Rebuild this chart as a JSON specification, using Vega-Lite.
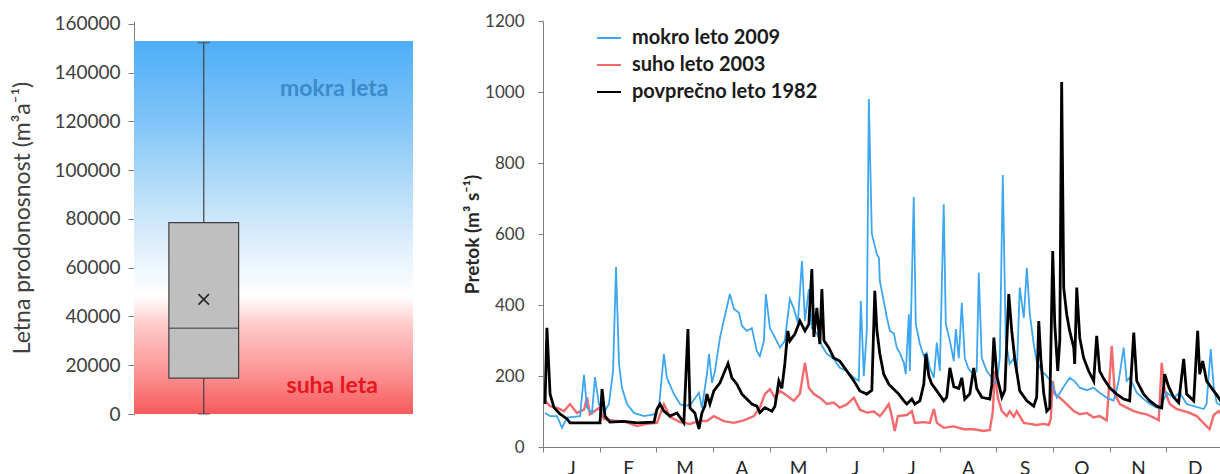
{
  "$schema": "https://vega.github.io/schema/vega-lite/v6.json",
  "background": "white",
  "padding": {"left": 11, "top": 12, "right": 0, "bottom": 0},
  "bounds": "flush",
  "spacing": 130,
  "config": {"view": {"stroke": null}, "font": "Lato"},
  "datasets": {
    "suho": [
      {"series":"suho leto 2003","day":1.1,"flow":130},{"series":"suho leto 2003","day":3.8,"flow":115},{"series":"suho leto 2003","day":7.5,"flow":110},{"series":"suho leto 2003","day":11.3,"flow":101},{"series":"suho leto 2003","day":14.5,"flow":121},{"series":"suho leto 2003","day":18.2,"flow":96},{"series":"suho leto 2003","day":22.0,"flow":105},{"series":"suho leto 2003","day":23.6,"flow":140},{"series":"suho leto 2003","day":25.2,"flow":92},{"series":"suho leto 2003","day":30.0,"flow":110},{"series":"suho leto 2003","day":32.7,"flow":79},{"series":"suho leto 2003","day":38.1,"flow":74},{"series":"suho leto 2003","day":43.5,"flow":72},{"series":"suho leto 2003","day":50.4,"flow":59},{"series":"suho leto 2003","day":55.8,"flow":65},{"series":"suho leto 2003","day":61.2,"flow":68},{"series":"suho leto 2003","day":64.9,"flow":121},{"series":"suho leto 2003","day":68.1,"flow":85},{"series":"suho leto 2003","day":73.5,"flow":70},{"series":"suho leto 2003","day":78.9,"flow":65},{"series":"suho leto 2003","day":84.2,"flow":74},{"series":"suho leto 2003","day":88.0,"flow":73},{"series":"suho leto 2003","day":91.7,"flow":87},{"series":"suho leto 2003","day":97.1,"flow":73},{"series":"suho leto 2003","day":102.5,"flow":68},{"series":"suho leto 2003","day":107.8,"flow":75},{"series":"suho leto 2003","day":113.2,"flow":87},{"series":"suho leto 2003","day":116.4,"flow":111},{"series":"suho leto 2003","day":119.1,"flow":149},{"series":"suho leto 2003","day":121.8,"flow":163},{"series":"suho leto 2003","day":124.5,"flow":139},{"series":"suho leto 2003","day":127.2,"flow":158},{"series":"suho leto 2003","day":130.9,"flow":145},{"series":"suho leto 2003","day":134.7,"flow":130},{"series":"suho leto 2003","day":137.9,"flow":150},{"series":"suho leto 2003","day":140.6,"flow":237},{"series":"suho leto 2003","day":142.7,"flow":167},{"series":"suho leto 2003","day":145.4,"flow":149},{"series":"suho leto 2003","day":148.6,"flow":139},{"series":"suho leto 2003","day":152.4,"flow":121},{"series":"suho leto 2003","day":156.1,"flow":125},{"series":"suho leto 2003","day":159.3,"flow":111},{"series":"suho leto 2003","day":163.1,"flow":120},{"series":"suho leto 2003","day":166.9,"flow":139},{"series":"suho leto 2003","day":170.1,"flow":105},{"series":"suho leto 2003","day":173.8,"flow":97},{"series":"suho leto 2003","day":177.6,"flow":100},{"series":"suho leto 2003","day":180.8,"flow":87},{"series":"suho leto 2003","day":182.9,"flow":100},{"series":"suho leto 2003","day":185.6,"flow":121},{"series":"suho leto 2003","day":187.2,"flow":87},{"series":"suho leto 2003","day":188.8,"flow":45},{"series":"suho leto 2003","day":190.5,"flow":87},{"series":"suho leto 2003","day":195.3,"flow":90},{"series":"suho leto 2003","day":198.0,"flow":101},{"series":"suho leto 2003","day":199.6,"flow":68},{"series":"suho leto 2003","day":204.4,"flow":70},{"series":"suho leto 2003","day":207.6,"flow":68},{"series":"suho leto 2003","day":209.8,"flow":107},{"series":"suho leto 2003","day":211.4,"flow":68},{"series":"suho leto 2003","day":215.1,"flow":54},{"series":"suho leto 2003","day":220.5,"flow":58},{"series":"suho leto 2003","day":225.9,"flow":50},{"series":"suho leto 2003","day":231.2,"flow":50},{"series":"suho leto 2003","day":236.6,"flow":45},{"series":"suho leto 2003","day":239.8,"flow":48},{"series":"suho leto 2003","day":241.4,"flow":97},{"series":"suho leto 2003","day":242.5,"flow":214},{"series":"suho leto 2003","day":244.1,"flow":139},{"series":"suho leto 2003","day":246.3,"flow":101},{"series":"suho leto 2003","day":248.9,"flow":87},{"series":"suho leto 2003","day":250.5,"flow":101},{"series":"suho leto 2003","day":252.7,"flow":85},{"series":"suho leto 2003","day":254.3,"flow":101},{"series":"suho leto 2003","day":258.1,"flow":68},{"series":"suho leto 2003","day":261.3,"flow":65},{"series":"suho leto 2003","day":265.0,"flow":62},{"series":"suho leto 2003","day":268.8,"flow":65},{"series":"suho leto 2003","day":271.5,"flow":62},{"series":"suho leto 2003","day":272.6,"flow":80},{"series":"suho leto 2003","day":273.6,"flow":186},{"series":"suho leto 2003","day":274.7,"flow":149},{"series":"suho leto 2003","day":277.4,"flow":139},{"series":"suho leto 2003","day":281.1,"flow":121},{"series":"suho leto 2003","day":284.9,"flow":101},{"series":"suho leto 2003","day":288.1,"flow":92},{"series":"suho leto 2003","day":291.9,"flow":96},{"series":"suho leto 2003","day":295.6,"flow":83},{"series":"suho leto 2003","day":298.8,"flow":87},{"series":"suho leto 2003","day":302.6,"flow":75},{"series":"suho leto 2003","day":305.3,"flow":285},{"series":"suho leto 2003","day":306.9,"flow":149},{"series":"suho leto 2003","day":309.6,"flow":121},{"series":"suho leto 2003","day":313.3,"flow":111},{"series":"suho leto 2003","day":317.1,"flow":101},{"series":"suho leto 2003","day":320.3,"flow":96},{"series":"suho leto 2003","day":324.0,"flow":92},{"series":"suho leto 2003","day":327.8,"flow":83},{"series":"suho leto 2003","day":330.5,"flow":75},{"series":"suho leto 2003","day":332.1,"flow":237},{"series":"suho leto 2003","day":333.7,"flow":160},{"series":"suho leto 2003","day":336.4,"flow":121},{"series":"suho leto 2003","day":340.1,"flow":107},{"series":"suho leto 2003","day":343.9,"flow":101},{"series":"suho leto 2003","day":347.1,"flow":96},{"series":"suho leto 2003","day":350.9,"flow":87},{"series":"suho leto 2003","day":357.8,"flow":50},{"series":"suho leto 2003","day":360.0,"flow":90},{"series":"suho leto 2003","day":362.7,"flow":101},{"series":"suho leto 2003","day":364.3,"flow":90}
    ],
    "mokro": [
      {"series":"mokro leto 2009","day":1.1,"flow":96},{"series":"mokro leto 2009","day":3.8,"flow":87},{"series":"mokro leto 2009","day":7.5,"flow":87},{"series":"mokro leto 2009","day":10.2,"flow":54},{"series":"mokro leto 2009","day":12.9,"flow":83},{"series":"mokro leto 2009","day":19.9,"flow":87},{"series":"mokro leto 2009","day":22.0,"flow":203},{"series":"mokro leto 2009","day":23.6,"flow":111},{"series":"mokro leto 2009","day":26.3,"flow":96},{"series":"mokro leto 2009","day":27.9,"flow":197},{"series":"mokro leto 2009","day":30.0,"flow":121},{"series":"mokro leto 2009","day":32.7,"flow":96},{"series":"mokro leto 2009","day":35.4,"flow":121},{"series":"mokro leto 2009","day":37.6,"flow":214},{"series":"mokro leto 2009","day":39.2,"flow":507},{"series":"mokro leto 2009","day":40.8,"flow":234},{"series":"mokro leto 2009","day":42.4,"flow":166},{"series":"mokro leto 2009","day":45.1,"flow":121},{"series":"mokro leto 2009","day":48.8,"flow":96},{"series":"mokro leto 2009","day":54.2,"flow":87},{"series":"mokro leto 2009","day":59.6,"flow":92},{"series":"mokro leto 2009","day":62.2,"flow":111},{"series":"mokro leto 2009","day":64.9,"flow":262},{"series":"mokro leto 2009","day":66.5,"flow":195},{"series":"mokro leto 2009","day":70.3,"flow":149},{"series":"mokro leto 2009","day":73.5,"flow":121},{"series":"mokro leto 2009","day":76.2,"flow":115},{"series":"mokro leto 2009","day":79.4,"flow":121},{"series":"mokro leto 2009","day":83.7,"flow":153},{"series":"mokro leto 2009","day":85.3,"flow":110},{"series":"mokro leto 2009","day":88.0,"flow":205},{"series":"mokro leto 2009","day":89.1,"flow":262},{"series":"mokro leto 2009","day":90.7,"flow":181},{"series":"mokro leto 2009","day":92.3,"flow":214},{"series":"mokro leto 2009","day":95.0,"flow":308},{"series":"mokro leto 2009","day":97.6,"flow":369},{"series":"mokro leto 2009","day":100.3,"flow":431},{"series":"mokro leto 2009","day":102.5,"flow":389},{"series":"mokro leto 2009","day":105.2,"flow":378},{"series":"mokro leto 2009","day":106.8,"flow":341},{"series":"mokro leto 2009","day":109.4,"flow":327},{"series":"mokro leto 2009","day":112.1,"flow":335},{"series":"mokro leto 2009","day":114.8,"flow":270},{"series":"mokro leto 2009","day":116.4,"flow":256},{"series":"mokro leto 2009","day":118.6,"flow":299},{"series":"mokro leto 2009","day":119.6,"flow":431},{"series":"mokro leto 2009","day":121.8,"flow":335},{"series":"mokro leto 2009","day":124.5,"flow":308},{"series":"mokro leto 2009","day":127.2,"flow":280},{"series":"mokro leto 2009","day":129.8,"flow":299},{"series":"mokro leto 2009","day":132.5,"flow":417},{"series":"mokro leto 2009","day":134.7,"flow":389},{"series":"mokro leto 2009","day":136.8,"flow":350},{"series":"mokro leto 2009","day":139.0,"flow":524},{"series":"mokro leto 2009","day":140.6,"flow":355},{"series":"mokro leto 2009","day":142.7,"flow":445},{"series":"mokro leto 2009","day":144.3,"flow":335},{"series":"mokro leto 2009","day":147.0,"flow":320},{"series":"mokro leto 2009","day":149.7,"flow":285},{"series":"mokro leto 2009","day":152.4,"flow":262},{"series":"mokro leto 2009","day":156.1,"flow":248},{"series":"mokro leto 2009","day":159.3,"flow":223},{"series":"mokro leto 2009","day":163.1,"flow":214},{"series":"mokro leto 2009","day":166.9,"flow":195},{"series":"mokro leto 2009","day":169.5,"flow":186},{"series":"mokro leto 2009","day":170.6,"flow":411},{"series":"mokro leto 2009","day":172.2,"flow":200},{"series":"mokro leto 2009","day":173.8,"flow":327},{"series":"mokro leto 2009","day":174.9,"flow":980},{"series":"mokro leto 2009","day":176.5,"flow":600},{"series":"mokro leto 2009","day":179.2,"flow":543},{"series":"mokro leto 2009","day":180.3,"flow":533},{"series":"mokro leto 2009","day":180.8,"flow":468},{"series":"mokro leto 2009","day":182.9,"flow":411},{"series":"mokro leto 2009","day":184.6,"flow":364},{"series":"mokro leto 2009","day":186.2,"flow":327},{"series":"mokro leto 2009","day":188.3,"flow":320},{"series":"mokro leto 2009","day":189.9,"flow":280},{"series":"mokro leto 2009","day":191.5,"flow":265},{"series":"mokro leto 2009","day":193.7,"flow":237},{"series":"mokro leto 2009","day":194.7,"flow":205},{"series":"mokro leto 2009","day":196.4,"flow":374},{"series":"mokro leto 2009","day":196.9,"flow":214},{"series":"mokro leto 2009","day":199.0,"flow":704},{"series":"mokro leto 2009","day":200.1,"flow":346},{"series":"mokro leto 2009","day":202.3,"flow":290},{"series":"mokro leto 2009","day":204.4,"flow":256},{"series":"mokro leto 2009","day":206.0,"flow":265},{"series":"mokro leto 2009","day":207.6,"flow":223},{"series":"mokro leto 2009","day":209.8,"flow":195},{"series":"mokro leto 2009","day":211.4,"flow":294},{"series":"mokro leto 2009","day":213.0,"flow":214},{"series":"mokro leto 2009","day":215.1,"flow":684},{"series":"mokro leto 2009","day":216.2,"flow":346},{"series":"mokro leto 2009","day":218.4,"flow":299},{"series":"mokro leto 2009","day":220.5,"flow":242},{"series":"mokro leto 2009","day":221.6,"flow":332},{"series":"mokro leto 2009","day":223.2,"flow":250},{"series":"mokro leto 2009","day":224.8,"flow":406},{"series":"mokro leto 2009","day":226.4,"flow":250},{"series":"mokro leto 2009","day":228.5,"flow":219},{"series":"mokro leto 2009","day":231.2,"flow":205},{"series":"mokro leto 2009","day":232.8,"flow":214},{"series":"mokro leto 2009","day":233.9,"flow":491},{"series":"mokro leto 2009","day":235.5,"flow":251},{"series":"mokro leto 2009","day":238.2,"flow":214},{"series":"mokro leto 2009","day":240.9,"flow":195},{"series":"mokro leto 2009","day":243.6,"flow":181},{"series":"mokro leto 2009","day":245.2,"flow":250},{"series":"mokro leto 2009","day":246.8,"flow":766},{"series":"mokro leto 2009","day":248.4,"flow":299},{"series":"mokro leto 2009","day":250.5,"flow":234},{"series":"mokro leto 2009","day":252.7,"flow":250},{"series":"mokro leto 2009","day":254.3,"flow":205},{"series":"mokro leto 2009","day":255.9,"flow":449},{"series":"mokro leto 2009","day":258.1,"flow":364},{"series":"mokro leto 2009","day":259.7,"flow":505},{"series":"mokro leto 2009","day":261.3,"flow":374},{"series":"mokro leto 2009","day":263.4,"flow":290},{"series":"mokro leto 2009","day":265.0,"flow":242},{"series":"mokro leto 2009","day":267.7,"flow":214},{"series":"mokro leto 2009","day":270.4,"flow":200},{"series":"mokro leto 2009","day":273.1,"flow":180},{"series":"mokro leto 2009","day":275.8,"flow":139},{"series":"mokro leto 2009","day":279.5,"flow":170},{"series":"mokro leto 2009","day":282.7,"flow":195},{"series":"mokro leto 2009","day":285.4,"flow":185},{"series":"mokro leto 2009","day":288.1,"flow":167},{"series":"mokro leto 2009","day":291.9,"flow":160},{"series":"mokro leto 2009","day":295.6,"flow":167},{"series":"mokro leto 2009","day":298.8,"flow":153},{"series":"mokro leto 2009","day":302.6,"flow":139},{"series":"mokro leto 2009","day":306.3,"flow":130},{"series":"mokro leto 2009","day":309.0,"flow":186},{"series":"mokro leto 2009","day":311.7,"flow":280},{"series":"mokro leto 2009","day":313.3,"flow":186},{"series":"mokro leto 2009","day":314.9,"flow":195},{"series":"mokro leto 2009","day":318.7,"flow":153},{"series":"mokro leto 2009","day":322.4,"flow":135},{"series":"mokro leto 2009","day":325.7,"flow":121},{"series":"mokro leto 2009","day":331.0,"flow":107},{"series":"mokro leto 2009","day":334.8,"flow":153},{"series":"mokro leto 2009","day":338.5,"flow":139},{"series":"mokro leto 2009","day":341.8,"flow":153},{"series":"mokro leto 2009","day":345.5,"flow":121},{"series":"mokro leto 2009","day":349.3,"flow":115},{"series":"mokro leto 2009","day":354.6,"flow":107},{"series":"mokro leto 2009","day":356.2,"flow":121},{"series":"mokro leto 2009","day":358.4,"flow":276},{"series":"mokro leto 2009","day":360.0,"flow":170},{"series":"mokro leto 2009","day":361.6,"flow":125},{"series":"mokro leto 2009","day":364.3,"flow":115}
    ],
    "povprecno": [
      {"series":"povprečno leto 1982","day":1.1,"flow":121},{"series":"povprečno leto 1982","day":2.1,"flow":336},{"series":"povprečno leto 1982","day":3.8,"flow":149},{"series":"povprečno leto 1982","day":5.9,"flow":111},{"series":"povprečno leto 1982","day":9.1,"flow":93},{"series":"povprečno leto 1982","day":12.9,"flow":79},{"series":"povprečno leto 1982","day":14.5,"flow":68},{"series":"povprečno leto 1982","day":23.6,"flow":68},{"series":"povprečno leto 1982","day":30.6,"flow":68},{"series":"povprečno leto 1982","day":31.7,"flow":163},{"series":"povprečno leto 1982","day":33.3,"flow":87},{"series":"povprečno leto 1982","day":35.9,"flow":70},{"series":"povprečno leto 1982","day":43.5,"flow":72},{"series":"povprečno leto 1982","day":50.4,"flow":68},{"series":"povprečno leto 1982","day":59.6,"flow":70},{"series":"povprečno leto 1982","day":61.2,"flow":107},{"series":"povprečno leto 1982","day":62.8,"flow":121},{"series":"povprečno leto 1982","day":64.9,"flow":101},{"series":"povprečno leto 1982","day":68.1,"flow":87},{"series":"povprečno leto 1982","day":71.9,"flow":96},{"series":"povprečno leto 1982","day":75.6,"flow":68},{"series":"povprečno leto 1982","day":77.8,"flow":332},{"series":"povprečno leto 1982","day":78.9,"flow":110},{"series":"povprečno leto 1982","day":81.5,"flow":96},{"series":"povprečno leto 1982","day":83.7,"flow":51},{"series":"povprečno leto 1982","day":85.3,"flow":96},{"series":"povprečno leto 1982","day":86.9,"flow":115},{"series":"povprečno leto 1982","day":88.0,"flow":149},{"series":"povprečno leto 1982","day":89.6,"flow":121},{"series":"povprečno leto 1982","day":91.7,"flow":158},{"series":"povprečno leto 1982","day":95.0,"flow":181},{"series":"povprečno leto 1982","day":97.6,"flow":214},{"series":"povprečno leto 1982","day":99.3,"flow":235},{"series":"povprečno leto 1982","day":101.4,"flow":195},{"series":"povprečno leto 1982","day":104.1,"flow":177},{"series":"povprečno leto 1982","day":106.8,"flow":149},{"series":"povprečno leto 1982","day":109.4,"flow":135},{"series":"povprečno leto 1982","day":112.1,"flow":121},{"series":"povprečno leto 1982","day":114.8,"flow":115},{"series":"povprečno leto 1982","day":116.4,"flow":97},{"series":"povprečno leto 1982","day":119.1,"flow":111},{"series":"povprečno leto 1982","day":122.9,"flow":101},{"series":"povprečno leto 1982","day":124.5,"flow":115},{"series":"povprečno leto 1982","day":126.6,"flow":186},{"series":"povprečno leto 1982","day":128.2,"flow":165},{"series":"povprečno leto 1982","day":129.8,"flow":234},{"series":"povprečno leto 1982","day":131.4,"flow":327},{"series":"povprečno leto 1982","day":132.5,"flow":299},{"series":"povprečno leto 1982","day":135.2,"flow":318},{"series":"povprečno leto 1982","day":137.9,"flow":355},{"series":"povprečno leto 1982","day":140.6,"flow":327},{"series":"povprečno leto 1982","day":142.7,"flow":346},{"series":"povprečno leto 1982","day":144.3,"flow":501},{"series":"povprečno leto 1982","day":145.4,"flow":310},{"series":"povprečno leto 1982","day":147.0,"flow":392},{"series":"povprečno leto 1982","day":148.6,"flow":290},{"series":"povprečno leto 1982","day":149.7,"flow":445},{"series":"povprečno leto 1982","day":150.8,"flow":300},{"series":"povprečno leto 1982","day":153.4,"flow":280},{"series":"povprečno leto 1982","day":156.1,"flow":251},{"series":"povprečno leto 1982","day":159.3,"flow":242},{"series":"povprečno leto 1982","day":163.1,"flow":214},{"series":"povprečno leto 1982","day":166.9,"flow":186},{"series":"povprečno leto 1982","day":170.1,"flow":158},{"series":"povprečno leto 1982","day":173.8,"flow":149},{"series":"povprečno leto 1982","day":176.5,"flow":160},{"series":"povprečno leto 1982","day":178.1,"flow":440},{"series":"povprečno leto 1982","day":179.2,"flow":330},{"series":"povprečno leto 1982","day":180.8,"flow":262},{"series":"povprečno leto 1982","day":182.9,"flow":205},{"series":"povprečno leto 1982","day":185.6,"flow":177},{"series":"povprečno leto 1982","day":188.3,"flow":163},{"series":"povprečno leto 1982","day":191.0,"flow":149},{"series":"povprečno leto 1982","day":193.7,"flow":130},{"series":"povprečno leto 1982","day":195.3,"flow":121},{"series":"povprečno leto 1982","day":198.0,"flow":135},{"series":"povprečno leto 1982","day":199.6,"flow":121},{"series":"povprečno leto 1982","day":202.3,"flow":130},{"series":"povprečno leto 1982","day":204.4,"flow":177},{"series":"povprečno leto 1982","day":205.5,"flow":262},{"series":"povprečno leto 1982","day":207.1,"flow":200},{"series":"povprečno leto 1982","day":208.7,"flow":177},{"series":"povprečno leto 1982","day":211.4,"flow":158},{"series":"povprečno leto 1982","day":215.1,"flow":130},{"series":"povprečno leto 1982","day":216.7,"flow":140},{"series":"povprečno leto 1982","day":218.4,"flow":223},{"series":"povprečno leto 1982","day":220.5,"flow":170},{"series":"povprečno leto 1982","day":223.2,"flow":165},{"series":"povprečno leto 1982","day":224.8,"flow":195},{"series":"povprečno leto 1982","day":226.4,"flow":135},{"series":"povprečno leto 1982","day":229.1,"flow":150},{"series":"povprečno leto 1982","day":231.2,"flow":223},{"series":"povprečno leto 1982","day":232.8,"flow":165},{"series":"povprečno leto 1982","day":235.5,"flow":140},{"series":"povprečno leto 1982","day":239.8,"flow":135},{"series":"povprečno leto 1982","day":240.9,"flow":175},{"series":"povprečno leto 1982","day":242.0,"flow":308},{"series":"povprečno leto 1982","day":243.6,"flow":200},{"series":"povprečno leto 1982","day":245.2,"flow":165},{"series":"povprečno leto 1982","day":246.3,"flow":140},{"series":"povprečno leto 1982","day":247.9,"flow":160},{"series":"povprečno leto 1982","day":250.0,"flow":431},{"series":"povprečno leto 1982","day":251.6,"flow":327},{"series":"povprečno leto 1982","day":253.2,"flow":250},{"series":"povprečno leto 1982","day":255.9,"flow":158},{"series":"povprečno leto 1982","day":259.7,"flow":130},{"series":"povprečno leto 1982","day":263.4,"flow":115},{"series":"povprečno leto 1982","day":265.0,"flow":140},{"series":"povprečno leto 1982","day":266.1,"flow":355},{"series":"povprečno leto 1982","day":267.2,"flow":250},{"series":"povprečno leto 1982","day":268.8,"flow":150},{"series":"povprečno leto 1982","day":270.4,"flow":101},{"series":"povprečno leto 1982","day":272.0,"flow":110},{"series":"povprečno leto 1982","day":273.6,"flow":552},{"series":"povprečno leto 1982","day":274.7,"flow":346},{"series":"povprečno leto 1982","day":276.3,"flow":214},{"series":"povprečno leto 1982","day":277.4,"flow":300},{"series":"povprečno leto 1982","day":278.4,"flow":1028},{"series":"povprečno leto 1982","day":279.5,"flow":449},{"series":"povprečno leto 1982","day":281.1,"flow":374},{"series":"povprečno leto 1982","day":282.7,"flow":327},{"series":"povprečno leto 1982","day":284.9,"flow":280},{"series":"povprečno leto 1982","day":285.4,"flow":234},{"series":"povprečno leto 1982","day":286.5,"flow":449},{"series":"povprečno leto 1982","day":288.1,"flow":308},{"series":"povprečno leto 1982","day":290.2,"flow":251},{"series":"povprečno leto 1982","day":292.9,"flow":214},{"series":"povprečno leto 1982","day":295.6,"flow":186},{"series":"povprečno leto 1982","day":297.2,"flow":313},{"series":"povprečno leto 1982","day":298.8,"flow":214},{"series":"povprečno leto 1982","day":301.0,"flow":192},{"series":"povprečno leto 1982","day":304.2,"flow":167},{"series":"povprečno leto 1982","day":307.9,"flow":149},{"series":"povprečno leto 1982","day":311.7,"flow":135},{"series":"povprečno leto 1982","day":314.9,"flow":130},{"series":"povprečno leto 1982","day":317.1,"flow":322},{"series":"povprečno leto 1982","day":318.7,"flow":186},{"series":"povprečno leto 1982","day":322.4,"flow":149},{"series":"povprečno leto 1982","day":325.7,"flow":130},{"series":"povprečno leto 1982","day":329.4,"flow":115},{"series":"povprečno leto 1982","day":332.1,"flow":110},{"series":"povprečno leto 1982","day":333.7,"flow":205},{"series":"povprečno leto 1982","day":335.8,"flow":170},{"series":"povprečno leto 1982","day":338.5,"flow":140},{"series":"povprečno leto 1982","day":341.2,"flow":125},{"series":"povprečno leto 1982","day":343.9,"flow":248},{"series":"povprečno leto 1982","day":345.5,"flow":149},{"series":"povprečno leto 1982","day":349.3,"flow":130},{"series":"povprečno leto 1982","day":351.4,"flow":327},{"series":"povprečno leto 1982","day":352.5,"flow":205},{"series":"povprečno leto 1982","day":354.1,"flow":242},{"series":"povprečno leto 1982","day":356.2,"flow":186},{"series":"povprečno leto 1982","day":360.0,"flow":158},{"series":"povprečno leto 1982","day":362.7,"flow":139},{"series":"povprečno leto 1982","day":364.3,"flow":125}
    ]
  },
  "hconcat": [
    {
      "width": 279,
      "height": 393,
      "layer": [
        {
          "data": {"values": [{"lower": 0, "upper": 153000}]},
          "mark": {"type": "rect", "fill": {"gradient": "linear", "x1": 0, "y1": 0, "x2": 0, "y2": 1, "stops": [
            {"offset": 0, "color": "#4eaef8"},
            {"offset": 0.2, "color": "#7cc2f8"},
            {"offset": 0.35, "color": "#a8d6f8"},
            {"offset": 0.5, "color": "#d3e9fa"},
            {"offset": 0.63, "color": "#f3f9fe"},
            {"offset": 0.685, "color": "#ffffff"},
            {"offset": 0.71, "color": "#ffeeee"},
            {"offset": 0.76, "color": "#ffcaca"},
            {"offset": 0.88, "color": "#fd9898"},
            {"offset": 1, "color": "#f65a5a"}
          ]}},
          "encoding": {
            "y": {"field": "upper", "type": "quantitative", "title": "Letna prodonosnost (m³a⁻¹)",
              "scale": {"domain": [0, 161200], "nice": false, "zero": true},
              "axis": {"values": [0,20000,40000,60000,80000,100000,120000,140000,160000], "format": "d",
                "grid": false, "labelFontSize": 19, "labelColor": "#404040", "titleFontSize": 23, "titleFontWeight": "normal", "titleColor": "#404040",
                "tickColor": "#7f7f7f", "domainColor": "#7f7f7f", "tickSize": 6, "labelPadding": 8, "titlePadding": 19}},
            "y2": {"field": "lower"}
          }
        },
        {
          "data": {"values": [{"cat": "box", "min": 0, "q1": 14700, "median": 35200, "q3": 78500, "max": 152300, "mean": 47000}]},
          "layer": [
            {"mark": {"type": "rule", "color": "#404040", "strokeWidth": 1.2},
             "encoding": {"x": {"field": "cat", "type": "nominal", "scale": {"domain": ["box", "label"], "paddingInner": 0, "paddingOuter": 0}, "axis": null},
                          "y": {"field": "min", "type": "quantitative", "title": "Letna prodonosnost (m³a⁻¹)"}, "y2": {"field": "max"}}},
            {"mark": {"type": "tick", "color": "#404040", "size": 12, "thickness": 1.2},
             "encoding": {"x": {"field": "cat", "type": "nominal"}, "y": {"field": "max", "type": "quantitative", "title": "Letna prodonosnost (m³a⁻¹)"}}},
            {"mark": {"type": "tick", "color": "#404040", "size": 12, "thickness": 1.2},
             "encoding": {"x": {"field": "cat", "type": "nominal"}, "y": {"field": "min", "type": "quantitative", "title": "Letna prodonosnost (m³a⁻¹)"}}},
            {"mark": {"type": "bar", "fill": "#bfbfbf", "stroke": "#404040", "strokeWidth": 1.2, "width": {"band": 0.5}},
             "encoding": {"x": {"field": "cat", "type": "nominal"}, "y": {"field": "q1", "type": "quantitative", "title": "Letna prodonosnost (m³a⁻¹)"}, "y2": {"field": "q3"}}},
            {"mark": {"type": "tick", "color": "#404040", "size": 70, "thickness": 1.5},
             "encoding": {"x": {"field": "cat", "type": "nominal"}, "y": {"field": "median", "type": "quantitative", "title": "Letna prodonosnost (m³a⁻¹)"}}},
            {"mark": {"type": "point", "shape": "M-1,-1L1,1M-1,1L1,-1", "filled": false, "stroke": "#262626", "strokeWidth": 1.6, "size": 110, "opacity": 1},
             "encoding": {"x": {"field": "cat", "type": "nominal"}, "y": {"field": "mean", "type": "quantitative", "title": "Letna prodonosnost (m³a⁻¹)"}}}
          ]
        },
        {
          "data": {"values": [{"cat": "label", "val": 133300, "txt": "mokra leta"}]},
          "mark": {"type": "text", "font": "Lato", "fontSize": 23, "fontWeight": "bold", "color": "#3b8bc8", "dx": -9},
          "encoding": {"x": {"field": "cat", "type": "nominal"}, "y": {"field": "val", "type": "quantitative", "title": "Letna prodonosnost (m³a⁻¹)"}, "text": {"field": "txt"}}
        },
        {
          "data": {"values": [{"cat": "label", "val": 11500, "txt": "suha leta"}]},
          "mark": {"type": "text", "font": "Lato", "fontSize": 23, "fontWeight": "bold", "color": "#e8161e", "dx": -11},
          "encoding": {"x": {"field": "cat", "type": "nominal"}, "y": {"field": "val", "type": "quantitative", "title": "Letna prodonosnost (m³a⁻¹)"}, "text": {"field": "txt"}}
        }
      ]
    },
    {
      "width": 680,
      "height": 426,
      "encoding": {
        "x": {"field": "day", "type": "quantitative",
          "scale": {"domain": [0, 365], "nice": false, "zero": false},
          "axis": {"title": null, "grid": false,
            "values": [0, 15.2083, 30.4167, 45.625, 60.8333, 76.0417, 91.25, 106.4583, 121.6667, 136.875, 152.0833, 167.2917, 182.5, 197.7083, 212.9167, 228.125, 243.3333, 258.5417, 273.75, 288.9583, 304.1667, 319.375, 334.5833, 349.7917, 365],
            "labelExpr": "abs(datum.value/30.416667 - round(datum.value/30.416667)) < 0.05 ? '' : ['J','F','M','A','M','J','J','A','S','O','N','D'][floor(datum.value/30.416667)]",
            "tickOpacity": {"condition": {"test": "abs(datum.value/30.416667 - round(datum.value/30.416667)) < 0.05", "value": 1}, "value": 0},
            "labelOverlap": false, "labelFlush": false, "labelFontSize": 19, "labelColor": "#262626",
            "domainColor": "#7f7f7f", "tickColor": "#7f7f7f", "tickSize": 5, "labelPadding": 7}},
        "y": {"field": "flow", "type": "quantitative",
          "scale": {"domain": [0, 1200], "nice": false},
          "axis": {"title": "Pretok (m³ s⁻¹)", "values": [0,200,400,600,800,1000,1200], "format": "d", "grid": false,
            "labelFontSize": 17, "labelColor": "#404040", "titleFontSize": 19, "titleFontWeight": "bold", "titleColor": "#262626",
            "tickColor": "#7f7f7f", "domainColor": "#7f7f7f", "tickSize": 5, "labelPadding": 14, "titlePadding": 2}},
        "color": {"field": "series", "type": "nominal",
          "scale": {"domain": ["mokro leto 2009", "suho leto 2003", "povprečno leto 1982"], "range": ["#3da6f0", "#f26a6c", "#000000"]},
          "legend": {"title": null, "orient": "none", "legendX": 462, "legendY": 4, "symbolType": "stroke", "symbolSize": 576, "symbolStrokeWidth": 2,
            "labelFontSize": 20, "labelFontWeight": "bold", "labelColor": "#1a1a1a", "labelOffset": 10, "rowPadding": 4, "labelLimit": 0}}
      },
      "layer": [
        {"data": {"name": "suho"}, "mark": {"type": "line", "strokeWidth": 2.4}},
        {"data": {"name": "mokro"}, "mark": {"type": "line", "strokeWidth": 1.8}},
        {"data": {"name": "povprecno"}, "mark": {"type": "line", "strokeWidth": 2.8}}
      ]
    }
  ]
}
